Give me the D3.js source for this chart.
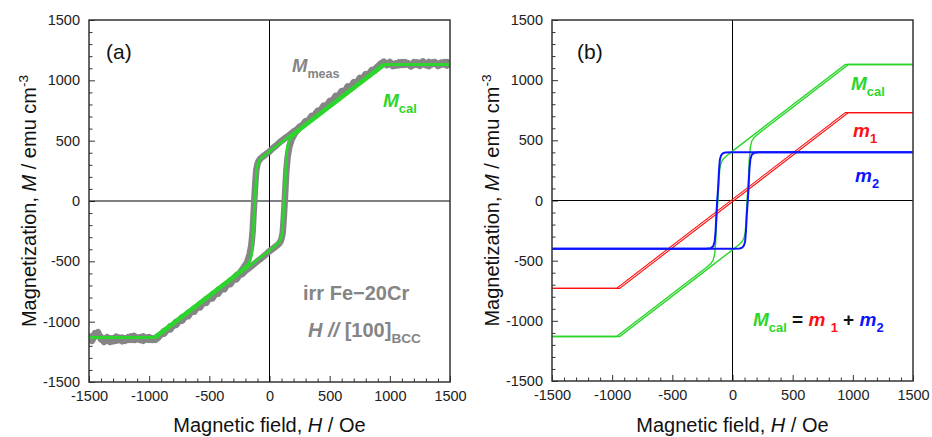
<!DOCTYPE html>
<html>
<head>
<meta charset="utf-8">
<script src="https://cdn.jsdelivr.net/npm/d3@7"></script>
<style>
  body { margin: 0; background: #fff; }
  text { font-family: "Liberation Sans", Arial, sans-serif; }
</style>
</head>
<body>
<script>
// Axis ticks (same for both axes of both panels)
const majorTicks = [-1500, -1000, -500, 0, 500, 1000, 1500];
const minorTicks = [-1400, -1300, -1200, -1100, -900, -800, -700, -600, -400, -300, -200, -100,
                    100, 200, 300, 400, 600, 700, 800, 900, 1100, 1200, 1300, 1400];

// m1 : linear component [H, M]
const m1Desc = [[1500, 730], [938, 730], [-964, -730], [-1500, -730]];
const m1Asc = [[-1500, -730], [-938, -730], [964, 730], [1500, 730]];

// m2 : square loop component
const m2Desc = [[1500, 400], [200, 400], [0, 400], [-60, 398], [-80, 392], [-95, 375], [-105, 340],
  [-112, 250], [-120, 100], [-127, 0], [-133, -100], [-140, -250], [-148, -340], [-160, -380],
  [-180, -396], [-220, -400], [-1500, -400]];
const m2Asc = [[-1500, -400], [-200, -400], [0, -400], [60, -398], [80, -392], [95, -375], [105, -340],
  [112, -250], [120, -100], [127, 0], [133, 100], [140, 250], [148, 340], [160, 380],
  [180, 396], [220, 400], [1500, 400]];

// Mcal = m1 + m2
const mCalDesc = [[1500, 1130], [938, 1130], [200, 564], [0, 410], [-60, 361], [-80, 341], [-95, 312],
  [-105, 269], [-112, 174], [-120, 18], [-127, -88], [-133, -192], [-140, -348], [-148, -444],
  [-160, -493], [-180, -524], [-220, -559], [-964, -1130], [-1500, -1130]];
const mCalAsc = [[-1500, -1130], [-938, -1130], [-200, -564], [0, -410], [60, -361], [80, -341], [95, -312],
  [105, -269], [112, -174], [120, -18], [127, 88], [133, 192], [140, 348], [148, 444],
  [160, 493], [180, 524], [220, 559], [964, 1130], [1500, 1130]];

const mMeasDesc = [[1500, 1138], [1475, 1122], [1450, 1150], [1425, 1130], [1400, 1118], [1375, 1145],
  [1350, 1132], [1325, 1152], [1300, 1125], [1275, 1142], [1250, 1120], [1225, 1148], [1200, 1130],
  [1175, 1115], [1150, 1142], [1125, 1128], [1100, 1150], [1075, 1124], [1050, 1140], [1025, 1118],
  [1000, 1138], [975, 1126], [950, 1155], [925, 1135], [900, 1110], [875, 1080], [850, 1085],
  [825, 1050], [800, 1050], [775, 1015], [750, 1010], [725, 980], [700, 975], [675, 940], [650, 945],
  [625, 905], [600, 900], [575, 865], [550, 860], [525, 825], [500, 815], [475, 785], [450, 780],
  [425, 745], [400, 740], [375, 705], [350, 695], [325, 665], [300, 660], [275, 630], [250, 615],
  [225, 590], [200, 575], [175, 555], [150, 535], [125, 518], [100, 498], [75, 478], [50, 455],
  [25, 435], [0, 410], [-25, 392], [-50, 372], [-75, 352], [-90, 332], [-100, 305], [-110, 255],
  [-118, 150], [-125, 30], [-132, -100], [-140, -250], [-150, -360], [-165, -440], [-185, -505],
  [-210, -545], [-250, -600], [-275, -615], [-300, -645], [-325, -660], [-350, -695], [-375, -700],
  [-400, -735], [-425, -735], [-450, -775], [-475, -775], [-500, -810], [-525, -812], [-550, -845],
  [-575, -850], [-600, -885], [-625, -890], [-650, -920], [-675, -925], [-700, -960], [-725, -962],
  [-750, -995], [-775, -1000], [-800, -1035], [-825, -1038], [-850, -1068], [-875, -1078],
  [-900, -1105], [-925, -1118], [-950, -1140], [-975, -1152], [-1000, -1128], [-1025, -1148],
  [-1050, -1122], [-1075, -1152], [-1100, -1135], [-1125, -1118], [-1150, -1150], [-1175, -1128],
  [-1200, -1158], [-1225, -1132], [-1250, -1152], [-1275, -1125], [-1300, -1162], [-1325, -1138],
  [-1350, -1152], [-1375, -1168], [-1400, -1128], [-1425, -1108], [-1450, -1095], [-1475, -1135],
  [-1500, -1152]];
const mMeasAsc = [[-1500, -1130], [-1475, -1158], [-1450, -1118], [-1425, -1088], [-1400, -1148],
  [-1375, -1152], [-1350, -1128], [-1325, -1168], [-1300, -1138], [-1275, -1158], [-1250, -1132],
  [-1225, -1162], [-1200, -1138], [-1175, -1152], [-1150, -1122], [-1125, -1152], [-1100, -1145],
  [-1075, -1128], [-1050, -1158], [-1025, -1132], [-1000, -1152], [-975, -1138], [-950, -1152],
  [-925, -1132], [-900, -1102], [-875, -1100], [-850, -1065], [-825, -1065], [-800, -1030],
  [-775, -1028], [-750, -990], [-725, -992], [-700, -955], [-675, -955], [-650, -915], [-625, -918],
  [-600, -878], [-575, -882], [-550, -840], [-525, -845], [-500, -800], [-475, -808], [-450, -765],
  [-425, -768], [-400, -725], [-375, -732], [-350, -688], [-325, -690], [-300, -650], [-275, -650],
  [-250, -612], [-225, -605], [-200, -578], [-175, -560], [-150, -540], [-125, -520], [-100, -500],
  [-75, -480], [-50, -460], [-25, -438], [0, -415], [25, -398], [50, -378], [75, -358], [90, -338],
  [100, -312], [110, -262], [118, -150], [125, -30], [132, 100], [140, 250], [150, 360], [165, 450],
  [185, 512], [210, 560], [250, 612], [275, 625], [300, 662], [325, 668], [350, 705], [375, 712],
  [400, 748], [425, 752], [450, 792], [475, 790], [500, 830], [525, 835], [550, 872], [575, 870],
  [600, 912], [625, 905], [650, 950], [675, 945], [700, 985], [725, 978], [750, 1020], [775, 1012],
  [800, 1052], [825, 1045], [850, 1080], [875, 1092], [900, 1115], [925, 1140], [950, 1150],
  [975, 1128], [1000, 1152], [1025, 1132], [1050, 1122], [1075, 1148], [1100, 1128], [1125, 1152],
  [1150, 1135], [1175, 1122], [1200, 1150], [1225, 1128], [1250, 1142], [1275, 1158], [1300, 1132],
  [1325, 1118], [1350, 1148], [1375, 1152], [1400, 1128], [1425, 1148], [1450, 1132], [1475, 1152],
  [1500, 1140]];

const green = "#2bd62b", red = "#ff1010", blue = "#0a14ff", grey = "#858585";

const svg = d3.select("body")
  .append("svg")
  .attr("width", 932)
  .attr("height", 437);

// rich text helper: parts = [{t, it, sub, sup, fill}]
function addText(g, x, y, parts, size, color, weight) {
  const t = g.append("text")
    .attr("x", x).attr("y", y)
    .attr("font-size", size)
    .attr("font-weight", weight || "bold")
    .attr("fill", color);
  let shift = 0;
  parts.forEach(p => {
    const target = p.sub ? size * 0.3 : (p.sup ? -size * 0.4 : 0);
    const s = t.append("tspan").text(p.t).attr("dy", target - shift);
    shift = target;
    if (p.sub || p.sup) s.attr("font-size", size * 0.68);
    if (p.it) s.attr("font-style", "italic");
    if (p.fill) s.attr("fill", p.fill);
  });
  return t;
}

function makePanel(left, top, w, h, id) {
  const g = svg.append("g");
  const x = d3.scaleLinear().domain([-1500, 1500]).range([left, left + w]);
  const y = d3.scaleLinear().domain([-1500, 1500]).range([top + h, top]);

  svg.append("clipPath").attr("id", id)
    .append("rect").attr("x", left).attr("y", top).attr("width", w).attr("height", h);

  // minor + major ticks pointing inside
  g.append("g").attr("transform", `translate(0,${top + h})`)
    .call(d3.axisBottom(x).tickValues(minorTicks).tickSize(-3.5).tickFormat(""))
    .call(a => a.select(".domain").remove());
  g.append("g").attr("transform", `translate(${left},0)`)
    .call(d3.axisLeft(y).tickValues(minorTicks).tickSize(-3.5).tickFormat(""))
    .call(a => a.select(".domain").remove());

  const xAxis = g.append("g").attr("transform", `translate(0,${top + h})`)
    .call(d3.axisBottom(x).tickValues(majorTicks).tickSize(-6).tickPadding(9).tickFormat(d => String(d)));
  const yAxis = g.append("g").attr("transform", `translate(${left},0)`)
    .call(d3.axisLeft(y).tickValues(majorTicks).tickSize(-6).tickPadding(9).tickFormat(d => String(d)));
  [xAxis, yAxis].forEach(a => {
    a.select(".domain").remove();
    a.selectAll("text").attr("font-size", 14.5).attr("fill", "#222")
      .attr("font-family", "'Liberation Sans', Arial, sans-serif");
  });
  g.selectAll(".tick line").attr("stroke", "#333");

  // zero lines
  g.append("line").attr("x1", x(0)).attr("x2", x(0)).attr("y1", top).attr("y2", top + h)
    .attr("stroke", "#000").attr("stroke-width", 1);
  g.append("line").attr("x1", left).attr("x2", left + w).attr("y1", y(0)).attr("y2", y(0))
    .attr("stroke", "#000").attr("stroke-width", 1);

  const plot = g.append("g").attr("clip-path", `url(#${id})`);

  // frame
  g.append("rect").attr("x", left).attr("y", top).attr("width", w).attr("height", h)
    .attr("fill", "none").attr("stroke", "#333").attr("stroke-width", 1.5);

  // axis titles
  addText(g, left + w / 2, 432, [{ t: "Magnetic field, " }, { t: "H", it: true }, { t: " / Oe" }],
    20, "#111", "normal").attr("text-anchor", "middle");
  addText(g, 0, 0, [{ t: "Magnetization, " }, { t: "M", it: true }, { t: " / emu cm" }, { t: "-3", sup: true }],
    20, "#111", "normal")
    .attr("text-anchor", "middle")
    .attr("transform", `translate(${left - 53},${top + h / 2}) rotate(-90)`);

  const line = d3.line().x(d => x(d[0])).y(d => y(d[1]));
  return { g, plot, line };
}

// Panel (a)
const pa = makePanel(89, 20, 361, 362, "clipA");
[mMeasDesc, mMeasAsc].forEach(d => {
  pa.plot.append("path").datum(d).attr("d", pa.line)
    .attr("fill", "none").attr("stroke", grey).attr("stroke-width", 6.5)
    .attr("stroke-linejoin", "round").attr("stroke-linecap", "round");
});
[mCalDesc, mCalAsc].forEach(d => {
  pa.plot.append("path").datum(d).attr("d", pa.line)
    .attr("fill", "none").attr("stroke", green).attr("stroke-width", 2.6);
});
addText(pa.g, 106, 59, [{ t: "(a)" }], 21, "#111", "normal");
addText(pa.g, 292, 72, [{ t: "M", it: true }, { t: "meas", sub: true }], 18.5, grey);
addText(pa.g, 383, 107, [{ t: "M", it: true }, { t: "cal", sub: true }], 19, green);
addText(pa.g, 303, 300, [{ t: "irr Fe\u221220Cr" }], 20, grey);
addText(pa.g, 308, 337, [{ t: "H", it: true }, { t: " // ", it: true }, { t: "[100]" }, { t: "BCC", sub: true }], 20, grey);

// Panel (b)
const pb = makePanel(552, 20, 361, 361, "clipB");
[mCalDesc, mCalAsc].forEach(d => {
  pb.plot.append("path").datum(d).attr("d", pb.line)
    .attr("fill", "none").attr("stroke", green).attr("stroke-width", 1.4);
});
[m1Desc, m1Asc].forEach(d => {
  pb.plot.append("path").datum(d).attr("d", pb.line)
    .attr("fill", "none").attr("stroke", red).attr("stroke-width", 1.1);
});
[m2Desc, m2Asc].forEach(d => {
  pb.plot.append("path").datum(d).attr("d", pb.line)
    .attr("fill", "none").attr("stroke", blue).attr("stroke-width", 2);
});
addText(pb.g, 577, 59, [{ t: "(b)" }], 21, "#111", "normal");
addText(pb.g, 851, 90, [{ t: "M", it: true }, { t: "cal", sub: true }], 19, green);
addText(pb.g, 853, 137, [{ t: "m", it: true }, { t: "1", sub: true }], 19, red);
addText(pb.g, 855, 182, [{ t: "m", it: true }, { t: "2", sub: true }], 19, blue);
addText(pb.g, 753, 326, [
  { t: "M", it: true, fill: green }, { t: "cal", sub: true, fill: green },
  { t: " = ", fill: "#111" },
  { t: "m", it: true, fill: red }, { t: " ", fill: red }, { t: "1", sub: true, fill: red },
  { t: " + ", fill: "#111" },
  { t: "m", it: true, fill: blue }, { t: "2", sub: true, fill: blue }
], 19, "#111");
</script>
</body>
</html>
